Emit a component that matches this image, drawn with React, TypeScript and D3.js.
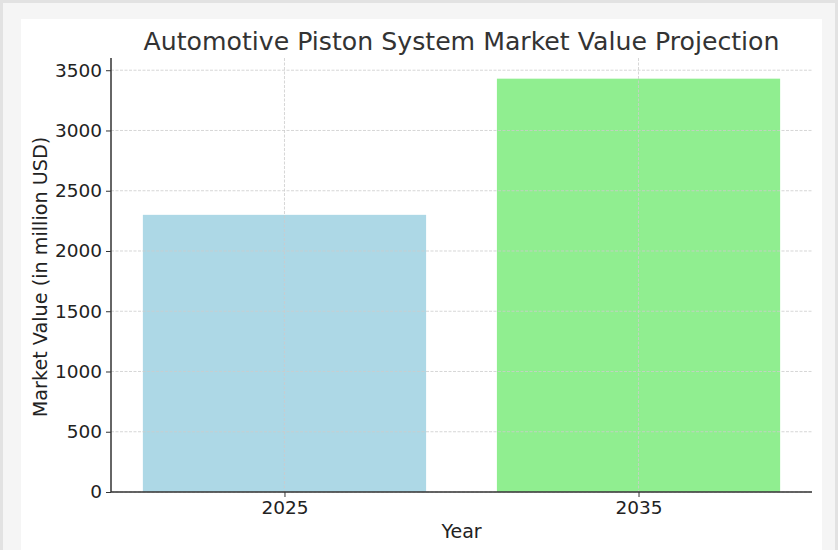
import React, { useEffect, useRef } from 'react';
import * as d3 from 'd3';

// data
const years = ['2025', '2035'];
const values = [2300, 3430];
const colors = ['#add8e6', '#90ee90'];
const yTicks = [0, 500, 1000, 1500, 2000, 2500, 3000, 3500];

function App() {
  const ref = useRef<SVGSVGElement>(null);

  useEffect(() => {
    const svg = d3.select(ref.current);
    svg.selectAll('*').remove();
    const width = 838;
    const height = 550;
    const margin = { top: 58, right: 26, bottom: 58, left: 111 };
    const innerW = width - margin.left - margin.right;
    const innerH = height - margin.top - margin.bottom;
    const font = 'DejaVu Sans, sans-serif';

    // background frame
    svg.append('rect')
      .attr('x', 1.5).attr('y', 1.5)
      .attr('width', width - 3).attr('height', height + 5)
      .attr('fill', '#f5f5f5')
      .attr('stroke', '#e2e2e2').attr('stroke-width', 3);
    svg.append('rect')
      .attr('x', 21).attr('y', 19)
      .attr('width', 801).attr('height', height)
      .attr('fill', '#fff');

    // matplotlib-like categorical axis: bars of width 0.8, 5% margins
    const x = d3.scaleLinear().domain([-0.49, 1.49]).range([0, innerW]);
    const y = d3.scaleLinear().domain([0, 3601.5]).range([innerH, 0]);

    const g = svg.append('g')
      .attr('transform', 'translate(' + margin.left + ',' + margin.top + ')');

    g.selectAll('.bar')
      .data(values)
      .enter().append('rect')
      .attr('class', 'bar')
      .attr('x', (d, i) => x(i - 0.4))
      .attr('width', x(0.8) - x(0))
      .attr('y', (d) => y(d))
      .attr('height', (d) => innerH - y(d))
      .attr('fill', (d, i) => colors[i]);

    // grid on top of the bars
    g.selectAll('.hgrid')
      .data(yTicks)
      .enter().append('line')
      .attr('x1', 0).attr('x2', innerW)
      .attr('y1', (d) => y(d)).attr('y2', (d) => y(d))
      .attr('stroke', '#cccccc').attr('stroke-width', 0.8)
      .attr('stroke-dasharray', '3,1.5');
    g.selectAll('.vgrid')
      .data(years)
      .enter().append('line')
      .attr('x1', (d, i) => x(i)).attr('x2', (d, i) => x(i))
      .attr('y1', 0).attr('y2', innerH)
      .attr('stroke', '#cccccc').attr('stroke-width', 0.8)
      .attr('stroke-dasharray', '3,1.5');

    const yAxis = g.append('g')
      .call(d3.axisLeft(y).tickValues(yTicks).tickSize(5).tickPadding(4).tickFormat(d3.format('d')));
    const xAxis = g.append('g')
      .attr('transform', 'translate(0,' + innerH + ')')
      .call(d3.axisBottom(x).tickValues([0, 1]).tickSize(5).tickPadding(4)
        .tickFormat((d) => years[d as number]));

    [xAxis, yAxis].forEach((a) => {
      a.select('.domain').attr('stroke', '#333').attr('stroke-width', 1.5)
        .attr('d', a === xAxis ? 'M0,0H' + innerW : 'M0,0V' + innerH);
      a.selectAll('.tick line').attr('stroke', '#333');
      a.selectAll('.tick text')
        .attr('fill', '#222')
        .style('font-family', font)
        .style('font-size', '18.5px');
    });

    svg.append('text')
      .attr('x', margin.left + innerW / 2).attr('y', 50)
      .attr('text-anchor', 'middle')
      .attr('fill', '#333')
      .style('font-family', font).style('font-size', '25.2px')
      .text('Automotive Piston System Market Value Projection');

    svg.append('text')
      .attr('x', margin.left + innerW / 2).attr('y', 538)
      .attr('text-anchor', 'middle')
      .attr('fill', '#222')
      .style('font-family', font).style('font-size', '19px')
      .text('Year');

    svg.append('text')
      .attr('transform', 'translate(47,' + (margin.top + innerH / 2 + 2) + ') rotate(-90)')
      .attr('text-anchor', 'middle')
      .attr('fill', '#222')
      .style('font-family', font).style('font-size', '19.2px')
      .text('Market Value (in million USD)');
  }, []);

  return (
    <svg ref={ref} width="838" height="550"
      style={{ position: 'absolute', left: 0, top: 0, display: 'block' }} />
  );
}

export default App;
